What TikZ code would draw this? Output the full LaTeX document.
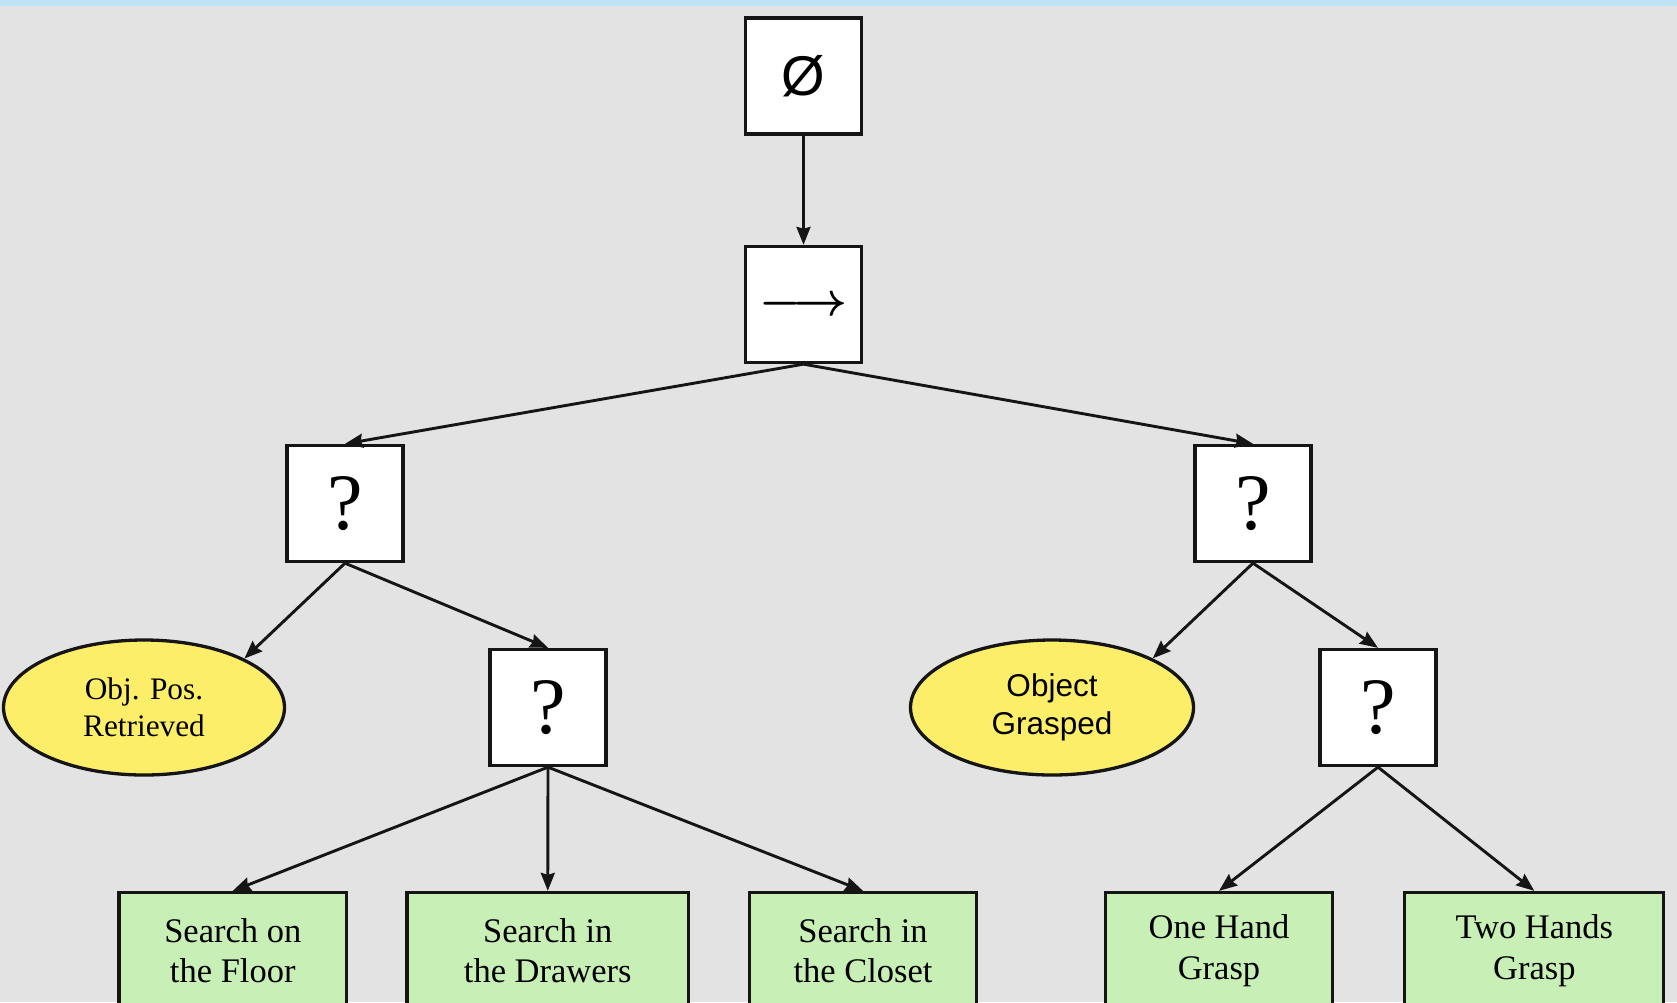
\documentclass[tikz,border=0pt]{standalone}
\usepackage{fontspec}
\setmainfont{Liberation Serif}
\newfontfamily\sansf{Liberation Sans}
\usepackage{graphicx}
\usetikzlibrary{arrows.meta,shapes.geometric}

\definecolor{bgpanel}{HTML}{E3E3E3}
\definecolor{topbar}{HTML}{BDE3F4}
\definecolor{condfill}{HTML}{FDEE6A}
\definecolor{actfill}{HTML}{C8F0B6}
\definecolor{ink}{HTML}{151515}

\tikzset{
  ctrl/.style={draw=ink, line width=3.3pt, fill=white, inner sep=0pt,
    minimum width=116pt, minimum height=116pt},
  cond/.style={ellipse, draw=ink, line width=3.3pt, fill=condfill, inner sep=0pt,
    minimum width=281pt, minimum height=135pt, align=center},
  act/.style={draw=ink, line width=3.3pt, fill=actfill, inner sep=0pt,
    minimum height=116pt, align=center,
    font=\fontsize{34.5}{40.5}\selectfont},
  qmark/.style={font=\fontsize{80}{80}\selectfont},
  link/.style={draw=ink, line width=2.9pt,
    -{Stealth[length=18pt,width=14pt,inset=2pt]}}
}

\begin{document}
\begin{tikzpicture}[x=1pt,y=-1pt]
  % page and backdrop
  \useasboundingbox (0,0) rectangle (1677,1002);
  \clip (0,0) rectangle (1677,1002);
  \fill[bgpanel] (0,0) rectangle (1677,1002);
  \fill[topbar] (0,0) rectangle (1677,6);

  % control nodes
  \node[ctrl, font=\sansf\fontsize{56}{56}\selectfont] (root) at (803.5,76) {Ø};
  \node[ctrl] (seq) at (803.5,304.5)
    {\raisebox{-11pt}[0pt][0pt]{\scalebox{4.7}{\boldmath$\longrightarrow$}}};
  \node[ctrl, qmark] (fbL) at (345,503.5) {?};
  \node[ctrl, qmark] (fbR) at (1253,503.5) {?};
  \node[ctrl, qmark] (fbS) at (548,707.5) {?};
  \node[ctrl, qmark] (fbG) at (1378,707.5) {?};

  % conditions
  \node[cond, font=\fontsize{31.3}{37.4}\selectfont] (posok) at (144,707.5)
    {Obj. Pos.\\Retrieved};
  \node[cond, minimum width=283pt, font=\sansf\fontsize{31.5}{37.4}\selectfont]
    (grasped) at (1052,707.5) {Object\\Grasped};

  % actions
  \node[act, minimum width=227.5pt] (floor)   at (232.75,950.5) {Search on\\the Floor};
  \node[act, minimum width=281.5pt] (drawers) at (547.75,950.5) {Search in\\the Drawers};
  \node[act, minimum width=227.5pt] (closet)  at (863,950.5)    {Search in\\the Closet};
  \node[act, minimum width=227pt]   (onehand) at (1219,950.5)   {One Hand\\Grasp};
  \node[act, minimum width=259pt]   (twohand) at (1534.3,950.5) {Two Hands\\Grasp};

  % connectors
  \draw[link] (root.south) -- (seq.north);
  \draw[link] (seq.south) -- (fbL.north);
  \draw[link] (seq.south) -- (fbR.north);
  \draw[link] (fbL.south) -- (posok.26);
  \draw[link] (fbL.south) -- (fbS.north);
  \draw[link] (fbR.south) -- (grasped.26);
  \draw[link] (fbR.south) -- (fbG.north);
  \draw[link] (fbS.south) -- (floor.north);
  \draw[link] (fbS.south) -- (drawers.north);
  \draw[link] (fbS.south) -- (closet.north);
  \draw[link] (fbG.south) -- (onehand.north);
  \draw[link] (fbG.south) -- (twohand.north);
\end{tikzpicture}
\end{document}
